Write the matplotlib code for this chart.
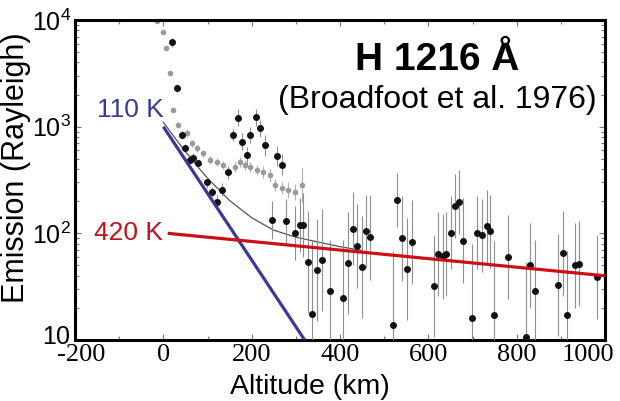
import matplotlib
matplotlib.use("Agg")
import matplotlib.pyplot as plt
import matplotlib.transforms as mtransforms
import numpy as np
from matplotlib.ticker import FixedLocator, LogLocator, NullFormatter

plt.rcParams['font.family'] = ['Liberation Sans', 'DejaVu Sans']
plt.rcParams['mathtext.fontset'] = 'custom'
plt.rcParams['mathtext.rm'] = 'Liberation Sans'
plt.rcParams['mathtext.it'] = 'Liberation Sans:italic'
plt.rcParams['mathtext.bf'] = 'Liberation Sans:bold'

# ---- data ----
black_alt = [20, 31, 42, 49, 60, 67, 79, 99, 110, 122, 133, 146, 158, 169, 178, 189, 196,
             210, 219, 230, 257, 269, 246, 278, 298, 310, 316, 328, 337, 348, 359, 377,
             407, 418, 429, 438, 450, 459, 468, 520, 529, 540, 552, 563, 613, 622, 633,
             640, 651, 660, 670, 679, 699, 710, 722, 733, 739, 749, 780, 821, 830, 841,
             893, 905, 914, 932, 941, 982]
black_val = [6200, 2300, 835, 630, 490, 510, 455, 300, 245, 197, 255, 375, 835, 1210, 720,
             540, 835, 1230, 970, 670, 530, 440, 133, 130, 101, 120, 120, 54, 17.5, 45, 56,
             29, 25, 53, 110, 76, 48, 105, 92, 13.8, 205, 90, 46, 83, 32, 64, 61, 64, 101,
             180, 197, 85, 16, 101, 96, 117, 105, 17, 60, 10.7, 50, 29, 33, 65, 17, 50, 52, 39]
black_err = [1.1, 1.1, 1.1, 1.1, 1.1, 1.1, 1.1, 1.12, 1.12, 1.15, 1.15, 1.15, 1.15, 1.2, 1.2,
             1.2, 1.2, 1.2, 1.2, 1.25, 1.25, 1.25, 1.5, 1.6, 1.8, 1.8, 2.0, 3.0, 5.0, 3.0, 3.0,
             3.0, 3.5, 3.0, 2.2, 2.5, 3.0, 2.2, 2.5, 5.0, 1.8, 2.5, 3.0, 2.5, 3.0, 2.5, 2.5,
             2.5, 2.2, 2.0, 2.0, 2.5, 5.0, 2.2, 2.2, 2.2, 2.2, 5.0, 2.5, 5.0, 2.5, 3.0, 3.0,
             2.5, 4.0, 2.5, 2.5, 2.5]

gray_alt = [-14, 0, 6, 15, 22, 33, 54, 65, 76, 90, 106, 122, 135, 146, 162, 174, 185, 196,
            212, 226, 242, 253, 269, 282, 298, 314]
gray_val = [9800, 7700, 5470, 3190, 1430, 1040, 870, 700, 630, 565, 487, 466, 437, 376, 419,
            466, 437, 419, 393, 376, 352, 284, 266, 255, 244, 284]
gray_err = [1.05, 1.05, 1.05, 1.05, 1.05, 1.06, 1.08, 1.08, 1.08, 1.08, 1.1, 1.1, 1.1, 1.1,
            1.12, 1.12, 1.12, 1.12, 1.12, 1.15, 1.15, 1.15, 1.15, 1.2, 1.2, 1.45]

fit_alt = [0, 25, 50, 75, 100, 150, 200, 250, 300, 350, 400, 450]
fit_val = [1100, 797, 584, 435, 329, 203, 140, 107, 92, 83, 75, 69]

line110_alt = [0, 320]
line110_val = [1000, 10]
line420_alt = [10, 1000]
line420_val = [100, 40]

xticks = [-200, 0, 200, 400, 600, 800, 1000]
yticks = [10, 100, 1000, 10000]
ytick_labels = [r'$\mathregular{10}$', r'$\mathregular{10^2}$', r'$\mathregular{10^3}$',
                r'$\mathregular{10^4}$']

# ---- figure ----
fig = plt.figure(figsize=(6.2, 4.01), dpi=100)
ax = fig.add_axes([75 / 620, 1 - 340 / 401, 530 / 620, 320 / 401])
ax.set_yscale('log')
ax.set_xlim(-200, 1000)
ax.set_ylim(10, 10000)

bv = np.array(black_val, dtype=float)
bf = np.array(black_err)
ax.errorbar(black_alt, bv, yerr=[bv - bv / bf, bv * bf - bv], fmt='o', ms=4.0,
            color='#111111', ecolor='#8f8f8f', elinewidth=0.8, capsize=0, zorder=3)
gv = np.array(gray_val, dtype=float)
gf = np.array(gray_err)
ax.errorbar(gray_alt, gv, yerr=[gv - gv / gf, gv * gf - gv], fmt='o', ms=3.0,
            color='#9a9a9a', ecolor='#b0b0b0', elinewidth=0.8, capsize=0, zorder=2)

ax.plot(fit_alt, fit_val, color='#555555', lw=0.9, zorder=2)
ax.plot(line110_alt, line110_val, color='#3a3a96', lw=2.3, zorder=4, solid_capstyle='butt')
ax.plot(line420_alt, line420_val, color='#cc1016', lw=2.3, zorder=4, solid_capstyle='butt')

for s in ax.spines.values():
    s.set_linewidth(2.2)
    s.set_color('black')

ax.xaxis.set_major_locator(FixedLocator(xticks))
ax.xaxis.set_minor_locator(FixedLocator(list(range(-100, 1000, 200))))
ax.set_xticklabels([str(t) for t in xticks], fontfamily='Liberation Serif', fontsize=19)
ax.yaxis.set_major_locator(FixedLocator(yticks))
ax.yaxis.set_minor_locator(LogLocator(base=10, subs=np.arange(2, 10)))
ax.yaxis.set_minor_formatter(NullFormatter())
ax.set_yticklabels(ytick_labels, fontsize=18)
ax.tick_params(axis='both', which='both', direction='in', top=True, right=True,
               color='#777777', width=0.8)
ax.tick_params(axis='both', which='major', length=4, pad=3)
ax.tick_params(axis='both', which='minor', length=3)
ax.tick_params(axis='x', which='major', pad=3)

# nudge edge labels as in the reference
lbls = ax.get_xticklabels()
off = mtransforms.ScaledTranslation(-17 / 100, 0, fig.dpi_scale_trans)
lbls[-1].set_transform(lbls[-1].get_transform() + off)
off2 = mtransforms.ScaledTranslation(6 / 100, 0, fig.dpi_scale_trans)
lbls[0].set_transform(lbls[0].get_transform() + off2)
ylbls = ax.get_yticklabels()
off3 = mtransforms.ScaledTranslation(0, 6 / 100, fig.dpi_scale_trans)
ylbls[0].set_transform(ylbls[0].get_transform() + off3)

fig.text(310 / 620, 1 - 387 / 401, 'Altitude (km)', fontsize=20.5, ha='center', va='center')
fig.text(16 / 620, 1 - 168 / 401, 'Emission (Rayleigh)', fontsize=22, ha='center',
         va='center', rotation=90)

fig.text(437 / 620, 1 - 60 / 401, 'H 1216 Å', fontsize=28, fontweight='bold',
         ha='center', va='center')
fig.text(437 / 620, 1 - 100 / 401, '(Broadfoot et al. 1976)', fontsize=23,
         ha='center', va='center')
fig.text(130 / 620, 1 - 110 / 401, '110 K', fontsize=19, color='#3a3a96',
         ha='center', va='center')
fig.text(128 / 620, 1 - 233 / 401, '420 K', fontsize=19, color='#c0141c',
         ha='center', va='center')

fig.savefig('out.png', dpi=100)
